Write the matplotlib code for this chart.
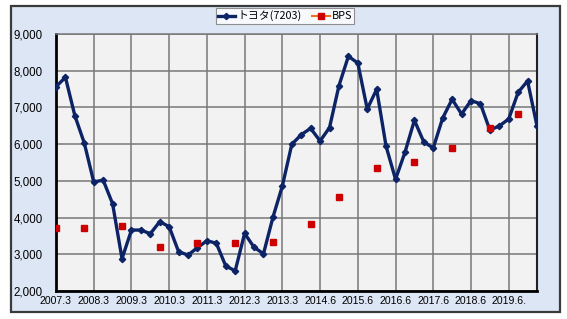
import numpy as np
import matplotlib
matplotlib.use("Agg")
import matplotlib.pyplot as plt
from matplotlib.patches import Rectangle
from matplotlib.ticker import FuncFormatter

plt.rcParams['font.family'] = ['Noto Sans CJK JP', 'DejaVu Sans']

# quarterly closing prices
toyota = [7565, 7820, 6775, 6030, 4970, 5020, 4378, 2880, 3660, 3660,
          3560, 3890, 3750, 3070, 2980, 3180, 3370, 3300, 2680, 2550,
          3570, 3190, 3015, 4007, 4860, 5995, 6257, 6431, 6085, 6450,
          7592, 8392, 8210, 6957, 7493, 5941, 5042, 5777, 6649, 6058,
          5895, 6712, 7221, 6821, 7184, 7102, 6385, 6494, 6685, 7411,
          7720, 6494]

# BPS: quarter index where each value is plotted
bps_idx = [0, 3, 7, 11, 15, 19, 23, 27, 30, 34, 38, 42, 46, 49]
bps_vals = [3707, 3710, 3780, 3200, 3300, 3300, 3335, 3835, 4570, 5340,
            5515, 5890, 6430, 6830]

x_labels = ["2007.3", "2008.3", "2009.3", "2010.3", "2011.3", "2012.3",
            "2013.3", "2014.6", "2015.6", "2016.6", "2017.6", "2018.6",
            "2019.6."]

x = np.arange(len(toyota))
bps = np.full(len(toyota), np.nan)
bps[bps_idx] = bps_vals

fig = plt.figure(figsize=(5.67, 3.19), dpi=100)
fig.patch.set_facecolor("white")

# outer chart frame
fig.patches.append(Rectangle((11 / 567, 1 - 312 / 319), 549 / 567, 306 / 319,
                             transform=fig.transFigure, facecolor="#dce6f4",
                             edgecolor="#3a3a3a", linewidth=1.6, zorder=-5))

ax = fig.add_axes([56 / 567, 1 - 291 / 319, 481 / 567, 257 / 319])
ax.set_facecolor("#f2f2f2")

ax.plot(x, toyota, color="#0c2366", linewidth=2.4, marker="D", markersize=3.2,
        label="トヨタ(7203)", zorder=3)
ax.plot(x, bps, color="#f07020", linewidth=1.5, marker="s", markersize=5,
        markerfacecolor="#cc0000", markeredgecolor="#cc0000",
        label="BPS", zorder=4)

ax.set_xlim(0, len(toyota) - 1)
ax.set_ylim(2000, 9000)
ax.set_xticks(np.arange(0, len(toyota), 4))
ax.set_xticklabels(x_labels, fontsize=7.6, family="Liberation Sans")
ax.set_yticks(np.arange(2000, 9001, 1000))
ax.yaxis.set_major_formatter(FuncFormatter(lambda v, p: f"{int(v):,}"))
ax.tick_params(length=0)
ax.tick_params(axis="x", pad=3.5)
ax.tick_params(axis="y", pad=9.4, labelsize=8.3)
for t in ax.get_yticklabels():
    t.set_family("Liberation Sans")

ax.grid(True, color="#787878", linewidth=1.1)
ax.set_axisbelow(True)
for side in ["left", "bottom"]:
    ax.spines[side].set_linewidth(2.0)
    ax.spines[side].set_color("black")
ax.spines["right"].set_linewidth(1.5)
ax.spines["right"].set_color("#222222")
ax.spines["top"].set_linewidth(1.1)
ax.spines["top"].set_color("#787878")

leg = fig.legend(loc="center", bbox_to_anchor=(285 / 567, 1 - 16 / 319),
                 ncol=2, fontsize=7.8, frameon=True, fancybox=False,
                 edgecolor="#777777", handlelength=1.6, handletextpad=0.2,
                 columnspacing=1.0, borderpad=0.2)
leg.get_frame().set_linewidth(0.8)

fig.savefig("out.png", dpi=100)
